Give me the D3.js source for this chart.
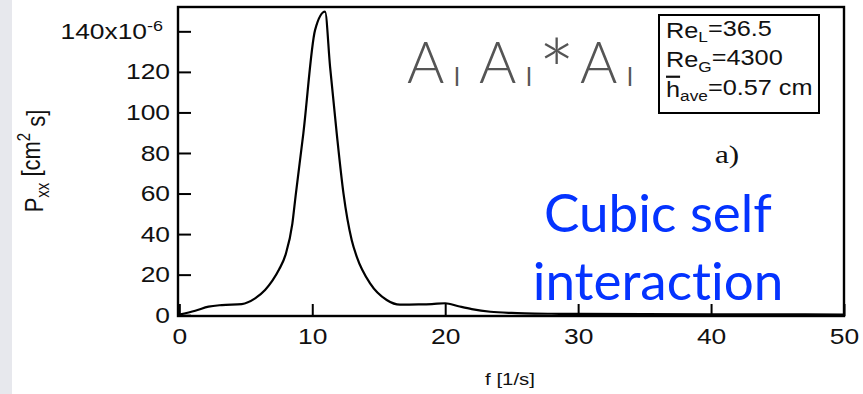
<!DOCTYPE html>
<html>
<head>
<meta charset="utf-8">
<script src="https://cdn.jsdelivr.net/npm/d3@7"></script>
<style>
  html, body { margin: 0; padding: 0; background: #fff; }
  svg { display: block; }
  .slide { font-variant-ligatures: none; font-feature-settings: "liga" 0, "clig" 0; }
</style>
</head>
<body>
<svg id="chart" width="863" height="394"></svg>
<script>
// Power spectrum P_xx(f) of the film thickness signal
const freq = [0, 1.2, 2.2, 3.2, 4.7, 5.7, 6.45, 7.0, 7.5, 8.0, 8.5, 8.75, 9.33, 10.21, 10.96, 11.34, 11.84, 12.35, 12.97, 13.35, 14.35, 15.6, 16.6, 18, 19, 20, 21, 22, 23.4, 25, 26, 28, 30, 35, 40, 45, 50];
const pxx  = [0.3, 2.2, 4.2, 5.0, 5.5, 8.3, 12.4, 17.0, 22.5, 30, 45, 59, 89.7, 140.6, 149.7, 122.5, 89.7, 60, 37, 28.8, 15.7, 7.5, 5.2, 5.3, 5.5, 5.9, 4.4, 3.0, 1.7, 1.1, 0.9, 0.7, 0.6, 0.5, 0.4, 0.4, 0.3];

const xTicks = [0, 10, 20, 30, 40, 50];
const yTicks = [0, 20, 40, 60, 80, 100, 120, 140];

const legendBase = ["Re", "Re", "h"];
const legendSub  = ["L", "G", "ave"];
const legendVal  = ["=36.5", "=4300", "=0.57 cm"];

const ampLabels  = ["A", "A", "A"];
const noteLines  = ["Cubic self", "interaction"];

const W = 863, H = 394;
const SX = 1.2;                       // lettering of the figure is drawn a bit wide
const sans = "'Liberation Sans', Arial, Helvetica, sans-serif";
const slide = "Lato, 'Open Sans', sans-serif";

const svg = d3.select("#chart");

// light strip at the left edge
svg.append("rect").attr("x", 0).attr("y", 0).attr("width", 12).attr("height", H).attr("fill", "#e7e8ed");

const x = d3.scaleLinear().domain([-0.1, 50]).range([178, 844]);
const y = d3.scaleLinear().domain([-0.4, 152]).range([316, 7]);

// x axis, ticks pointing into the plot
const xAxis = svg.append("g")
  .attr("transform", `translate(0,${y(-0.4)})`)
  .call(d3.axisBottom(x).tickValues(xTicks).tickSize(-12).tickPadding(12).tickFormat(d3.format("d")));
xAxis.select(".domain").remove();
xAxis.selectAll("line").attr("stroke", "#000").attr("stroke-width", 2);
xAxis.selectAll("text")
  .attr("font-family", sans).attr("font-size", 22).attr("fill", "#111")
  .attr("transform", `scale(${SX},1)`);

// y axis
const yAxis = svg.append("g")
  .attr("transform", `translate(${x(-0.1)},0)`)
  .call(d3.axisLeft(y).tickValues(yTicks).tickSize(-13).tickPadding(8 / SX)
    .tickFormat(d => d === 140 ? "" : d));
yAxis.select(".domain").remove();
yAxis.selectAll("line").attr("stroke", "#000").attr("stroke-width", 2);
yAxis.selectAll("text")
  .attr("font-family", sans).attr("font-size", 22).attr("fill", "#111")
  .attr("transform", `scale(${SX},1)`);
yAxis.selectAll("text").filter(d => d === 140)
  .attr("x", -15 / SX)
  .call(t => {
    t.append("tspan").text("140x10");
    t.append("tspan").attr("dy", "-0.5em").attr("font-size", 15).text("-6");
  });

// frame
svg.append("rect")
  .attr("x", x(-0.1)).attr("y", y(152))
  .attr("width", x(50) - x(-0.1)).attr("height", y(-0.4) - y(152))
  .attr("fill", "none").attr("stroke", "#000").attr("stroke-width", 2.4);

// spectrum curve
const line = d3.line().x((d, i) => x(freq[i])).y(d => y(d)).curve(d3.curveMonotoneX);
svg.append("path")
  .datum(pxx)
  .attr("d", line)
  .attr("fill", "none").attr("stroke", "#000").attr("stroke-width", 2.2)
  .attr("stroke-linejoin", "round");

// y axis title
const yTitle = svg.append("text")
  .attr("transform", `translate(43,161) rotate(-90) scale(1,${SX})`)
  .attr("text-anchor", "middle")
  .attr("font-family", sans).attr("font-size", 22).attr("fill", "#111");
yTitle.append("tspan").text("P");
yTitle.append("tspan").attr("font-size", 15).attr("dy", "0.35em").text("xx");
yTitle.append("tspan").attr("dy", "-0.35em").text(" [cm");
yTitle.append("tspan").attr("font-size", 15).attr("dy", "-0.55em").text("2");
yTitle.append("tspan").attr("dy", "0.55em").text(" s]");

// x axis title
svg.append("text")
  .attr("transform", `translate(510,385) scale(${SX},1)`)
  .attr("text-anchor", "middle")
  .attr("font-family", sans).attr("font-size", 17).attr("fill", "#111")
  .text("f [1/s]");

// parameter box
svg.append("rect")
  .attr("x", 659).attr("y", 15).attr("width", 160).attr("height", 98)
  .attr("fill", "#fff").attr("stroke", "#000").attr("stroke-width", 2);
const lg = svg.append("g")
  .attr("transform", `translate(666,0) scale(1.15,1)`)
  .attr("font-family", sans).attr("fill", "#111");
legendBase.forEach((b, i) => {
  const t = lg.append("text").attr("x", 0).attr("y", 38 + i * 29.5).attr("font-size", 22);
  const base = t.append("tspan").text(b);
  if (i === 2) base.style("text-decoration", "overline");
  t.append("tspan").attr("font-size", 15).attr("dy", "0.3em").text(legendSub[i]);
  t.append("tspan").attr("dy", "-0.3em").text(legendVal[i]);
});

// panel letter
svg.append("text")
  .attr("transform", `translate(715,163) scale(1.2,1)`)
  .attr("font-family", "'Liberation Serif', 'Times New Roman', serif")
  .attr("font-size", 26).attr("fill", "#111")
  .text("a)");

// amplitude product annotation
const amp = svg.append("g").attr("class", "slide").attr("fill", "#555").attr("font-family", slide);
const ampX = [407, 479, 580];
const subX = [454, 526, 627];
ampLabels.forEach((a, i) => {
  amp.append("text").attr("x", ampX[i]).attr("y", 83).attr("font-size", 57).attr("font-weight", 300).text(a);
  amp.append("text").attr("x", subX[i]).attr("y", 86).attr("font-size", 25).attr("font-weight", 400).text("l");
});
amp.append("text").attr("x", 538).attr("y", 104).attr("font-size", 88).attr("font-weight", 300).text("*");

// note
svg.append("g")
  .attr("class", "slide")
  .attr("fill", "#0433ff").attr("font-family", slide).attr("font-size", 53)
  .selectAll("text").data(noteLines).join("text")
  .attr("x", 658).attr("y", (d, i) => 232 + i * 68)
  .attr("text-anchor", "middle")
  .text(d => d);
</script>
</body>
</html>
